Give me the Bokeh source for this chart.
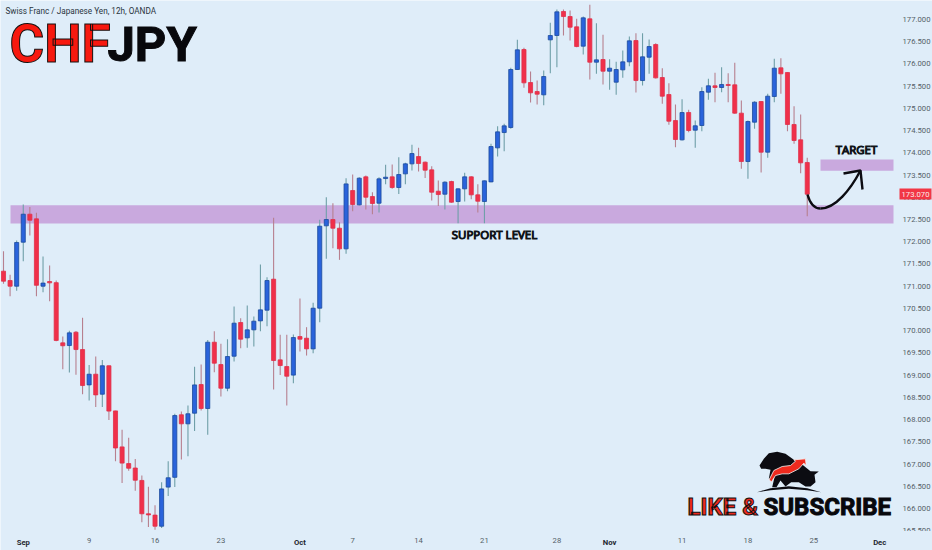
from bokeh.plotting import figure
from bokeh.models import Range1d, LinearAxis, FixedTicker, BoxAnnotation, NumeralTickFormatter
from bokeh.core.properties import value
from bokeh.embed import file_html
from bokeh.resources import INLINE

opens = [171.338,171.128,171.00,171.99,172.62,172.515,171.00,171.105,171.08,169.725,169.665,169.965,169.575,168.78,169.02,168.57,169.21,168.195,167.385,167.01,166.91,166.63,165.88,165.85,165.60,166.48,166.70,168.107,167.904,168.143,168.788,168.248,169.74,169.238,168.705,169.425,170.183,169.838,170.018,170.22,170.46,171.158,169.343,169.193,169.0,169.868,169.83,169.59,170.505,172.358,172.5,172.305,171.84,173.152,172.83,173.46,173.017,172.867,173.422,173.46,173.22,173.527,173.752,173.917,173.79,173.617,173.137,173.07,173.355,172.905,173.19,173.46,173.055,172.905,173.347,174.112,174.457,174.57,175.875,176.325,175.582,175.38,175.305,176.542,176.64,177.18,177.067,176.835,176.4,177.015,176.04,176.1,175.837,175.59,175.867,176.047,176.527,175.627,176.152,176.437,175.695,175.312,174.727,174.292,174.908,174.51,174.615,175.365,175.508,175.47,175.538,175.53,174.893,173.805,174.69,175.155,174.015,175.268,175.913,175.808,174.638,174.293,173.783]
closes = [171.113,171.00,171.983,172.62,172.485,171.02,171.07,171.075,169.78,169.66,169.95,169.575,168.765,169.02,168.555,169.21,168.19,167.36,167.02,166.905,166.635,165.88,165.855,165.60,166.44,166.69,168.09,167.904,168.13,168.78,168.248,169.74,169.268,168.705,169.418,170.168,169.808,170.018,170.213,170.468,171.128,169.328,169.215,168.975,169.845,169.808,169.59,170.505,172.35,172.5,172.305,171.84,173.302,172.837,173.43,173.002,172.86,173.415,173.452,173.22,173.512,173.752,173.985,173.76,173.61,173.115,173.062,173.34,172.89,173.19,173.46,173.055,172.912,173.37,174.142,174.472,174.607,175.875,176.317,175.575,175.35,175.32,175.717,176.64,177.172,177.067,176.827,176.392,177.037,176.04,176.092,175.837,175.905,175.875,176.047,176.52,175.627,176.16,176.392,175.687,175.275,174.712,174.3,174.907,174.503,174.608,175.38,175.508,175.47,175.538,175.515,174.893,173.805,174.705,175.14,174.015,175.275,175.905,175.778,174.638,174.278,173.775,173.07]
highs = [171.788,171.255,172.03,172.84,172.78,172.65,171.67,171.465,171.13,169.87,170.0,169.99,170.29,169.23,169.42,169.34,169.215,168.20,167.77,167.59,167.115,166.74,166.49,166.07,166.59,167.06,168.13,168.18,168.316,169.19,169.238,169.79,169.988,169.703,169.808,170.543,170.28,170.565,170.318,171.488,171.203,172.538,169.905,169.905,169.913,170.723,170.078,170.625,172.493,173.003,172.868,172.44,173.43,173.512,173.452,173.49,173.115,173.452,173.73,173.737,173.902,173.775,174.18,174.112,173.805,173.70,173.377,173.362,173.37,173.205,173.55,173.475,173.295,173.377,174.202,174.60,174.652,175.912,176.542,176.362,175.83,175.627,175.852,176.925,177.225,177.225,177.202,177.015,177.067,177.33,176.917,176.655,176.107,176.047,176.302,176.617,176.692,176.692,176.55,176.467,175.905,175.567,175.087,175.207,174.968,174.728,175.478,175.665,175.80,175.928,175.793,176.025,175.178,174.728,175.163,175.163,175.328,176.115,176.13,175.815,175.05,174.863,173.888]
lows = [171.053,170.775,170.90,171.56,172.14,170.775,170.865,170.66,169.76,169.13,169.06,169.01,168.57,168.43,168.28,168.28,167.99,167.06,166.57,166.85,166.40,165.69,165.58,165.52,165.56,166.28,166.48,167.10,167.176,167.74,168.203,167.66,169.065,168.518,168.638,169.305,169.605,169.613,169.643,169.988,170.10,168.675,169.0,168.315,168.818,169.53,169.44,169.493,170.19,171.615,171.855,171.593,171.73,172.687,172.815,172.725,172.62,172.657,173.295,173.19,173.077,173.295,173.602,173.58,173.437,172.927,172.807,172.725,172.875,172.417,172.905,172.957,172.657,172.417,173.34,173.917,174.037,174.54,175.867,175.462,175.132,175.087,175.072,175.792,175.927,176.64,176.527,176.377,176.212,175.65,175.777,175.537,175.417,175.305,175.687,175.95,175.357,175.515,175.777,175.672,175.102,174.63,174.127,174.277,174.465,174.113,174.488,175.193,175.14,175.365,175.14,174.878,173.64,173.415,174.54,173.558,173.888,175.14,175.328,174.488,174.203,173.543,172.575]

date_labels = ["9", "16", "23", "7", "14", "21", "28", "11", "18", "25"]
date_positions = [13, 23, 33, 53, 63, 73, 84, 103, 113, 123]
month_labels = ["Sep", "Oct", "Nov", "Dec"]
month_positions = [3, 45, 92, 133]
support_zone = (172.41, 172.82)
target_zone = (173.60, 173.85)
last_price = 173.07
price_ticks = [165.5 + 0.5 * k for k in range(24)]

W, H = 932, 550
PX_STEP = 6.588
PX_UNIT = 44.45

def X(px):
    return (px - 3) / PX_STEP

def Y(py):
    return 177 - (py - 19) / PX_UNIT

BG = "#DFEDF9"
p = figure(width=W, height=H, output_backend="svg", toolbar_location=None,
           x_range=Range1d(X(0), X(W)), y_range=Range1d(Y(H), Y(0)),
           x_axis_location=None, y_axis_location=None,
           background_fill_color=BG, border_fill_color=BG,
           min_border_left=0, min_border_top=0, min_border_right=0, min_border_bottom=0)
p.outline_line_color = None
p.grid.visible = False

TICK_FONT = "Roboto"
TICK_SIZE = "7.7px"
TICK_COLOR = "#555f68"

def style_axis(ax, standoff, color=TICK_COLOR, font_style="normal"):
    ax.axis_line_color = None
    ax.major_tick_line_color = None
    ax.minor_tick_line_color = None
    ax.major_tick_in = 0
    ax.major_tick_out = 0
    ax.minor_tick_in = 0
    ax.minor_tick_out = 0
    ax.major_label_standoff = standoff
    ax.major_label_text_font = TICK_FONT
    ax.major_label_text_font_size = TICK_SIZE
    ax.major_label_text_color = color
    ax.major_label_text_font_style = font_style

right = LinearAxis(ticker=FixedTicker(ticks=price_ticks), formatter=NumeralTickFormatter(format="0.000"),
                   fixed_location=X(902))
style_axis(right, 0)
p.add_layout(right, "right")

bottom = LinearAxis(ticker=FixedTicker(ticks=date_positions), fixed_location=Y(530),
                    major_label_overrides={k: v for k, v in zip(date_positions, date_labels)})
style_axis(bottom, 7)
p.add_layout(bottom, "below")

months = LinearAxis(ticker=FixedTicker(ticks=month_positions), fixed_location=Y(530),
                    major_label_overrides={k: v for k, v in zip(month_positions, month_labels)})
style_axis(months, 7, "#1e2730", "bold")
p.add_layout(months, "below")

p.add_layout(BoxAnnotation(left=X(894), right=X(W), top=Y(530.5), bottom=Y(H), fill_color=BG, fill_alpha=1,
                           line_color=None, level="overlay"))

BAND = "#C9A9DE"
p.quad(left=[X(10), X(820)], right=[X(893), X(893)],
       bottom=[support_zone[0], target_zone[0]], top=[support_zone[1], target_zone[1]],
       fill_color=BAND, line_color=None)

idx = list(range(len(opens)))
up = [c >= o for o, c in zip(opens, closes)]
wick = ["#6F9FA8" if u else "#B7808F" for u in up]
fill = ["#2A63DB" if u else "#F0304A" for u in up]
edge = ["#1B4A9C" if u else "#E0304A" for u in up]
p.segment(idx, lows, idx, highs, line_color=wick, line_width=1.1)
p.vbar(x=idx, width=0.62, top=[max(a, b) for a, b in zip(opens, closes)],
       bottom=[min(a, b) for a, b in zip(opens, closes)],
       fill_color=fill, line_color=edge, line_width=0.8)

# arrow
p.bezier(x0=[X(807), X(820)], y0=[Y(194), Y(208)], x1=[X(820), X(860)], y1=[Y(208), Y(170)],
         cx0=[X(810), X(835)], cy0=[Y(205), Y(208)], cx1=[X(815), X(850)], cy1=[Y(208), Y(189)],
         line_color="#0c0c12", line_width=2.4)
p.line([X(843), X(860), X(862)], [Y(173), Y(170), Y(189)], line_color="#0c0c12", line_width=2.4)

def text(px, py, s, font, size, color, style="normal", outline=None, align="left", level="glyph"):
    p.text([X(px)], [Y(py)], text=[s], text_font=value(font), text_font_size=f"{size}px",
           text_color=color, text_font_style=style, text_align=align, text_baseline="middle",
           text_outline_color=outline, level=level)

text(5, 10.5, "Swiss Franc / Japanese Yen, 12h, OANDA", "Roboto", 8.2, "#2a3440")
text(9, 43.5, "CHF", "Roboto", 53, "#F7190F", "bold", "#101010")
text(107, 43.5, "JPY", "Roboto", 49, "#08080c", "bold", "#08080c")
text(494, 234, "SUPPORT LEVEL", "Open Sans", 11.5, "#101418", "normal", "#101418", "center")
text(856, 148.5, "TARGET", "Open Sans", 11.4, "#101418", "normal", "#101418", "center")
text(687, 506.5, "LIKE &", "Roboto", 24, "#EE2A1E", "bold", "#101010")
text(763, 506.5, "SUBSCRIBE", "Roboto", 24, "#08080c", "bold", "#08080c")

# price tag on the scale
p.quad(left=[X(899)], right=[X(931)], bottom=[Y(199)], top=[Y(188)], fill_color="#F23645",
       line_color=None, level="overlay")
text(915, 193.7, f"{last_price:.3f}", TICK_FONT, 7.7, "#fbe9ea", align="center", level="overlay")

# bull & bear logo, outline (given as reference pixels)
def logo(pts, color, line=None):
    p.patch([X(670 + a / 3) for a, b in pts], [Y(440 + b / 3) for a, b in pts],
            fill_color=color, line_color=line, line_width=0.8)

logo([(267,75),(280,55),(295,38),(320,34),(345,40),(370,58),(395,72),(420,92),(445,93),(432,103),(435,125),(420,138),(405,138),(385,125),(362,125),(345,138),(330,120),(318,140),(305,140),(312,110),(295,115),(300,88),(285,85),(272,85)], "#0c0c12")
logo([(296,118),(310,90),(335,78),(360,75),(375,62),(370,58),(405,55),(407,75),(400,68),(385,85),(355,100),(335,100),(315,105),(303,124)], "#EE2A1E", "#f5f5f5")
logo([(260,155),(300,143),(355,137),(410,143),(452,155),(410,149),(355,145),(300,149)], "#0c0c12")

open("out.html", "w").write(file_html(p, INLINE))
